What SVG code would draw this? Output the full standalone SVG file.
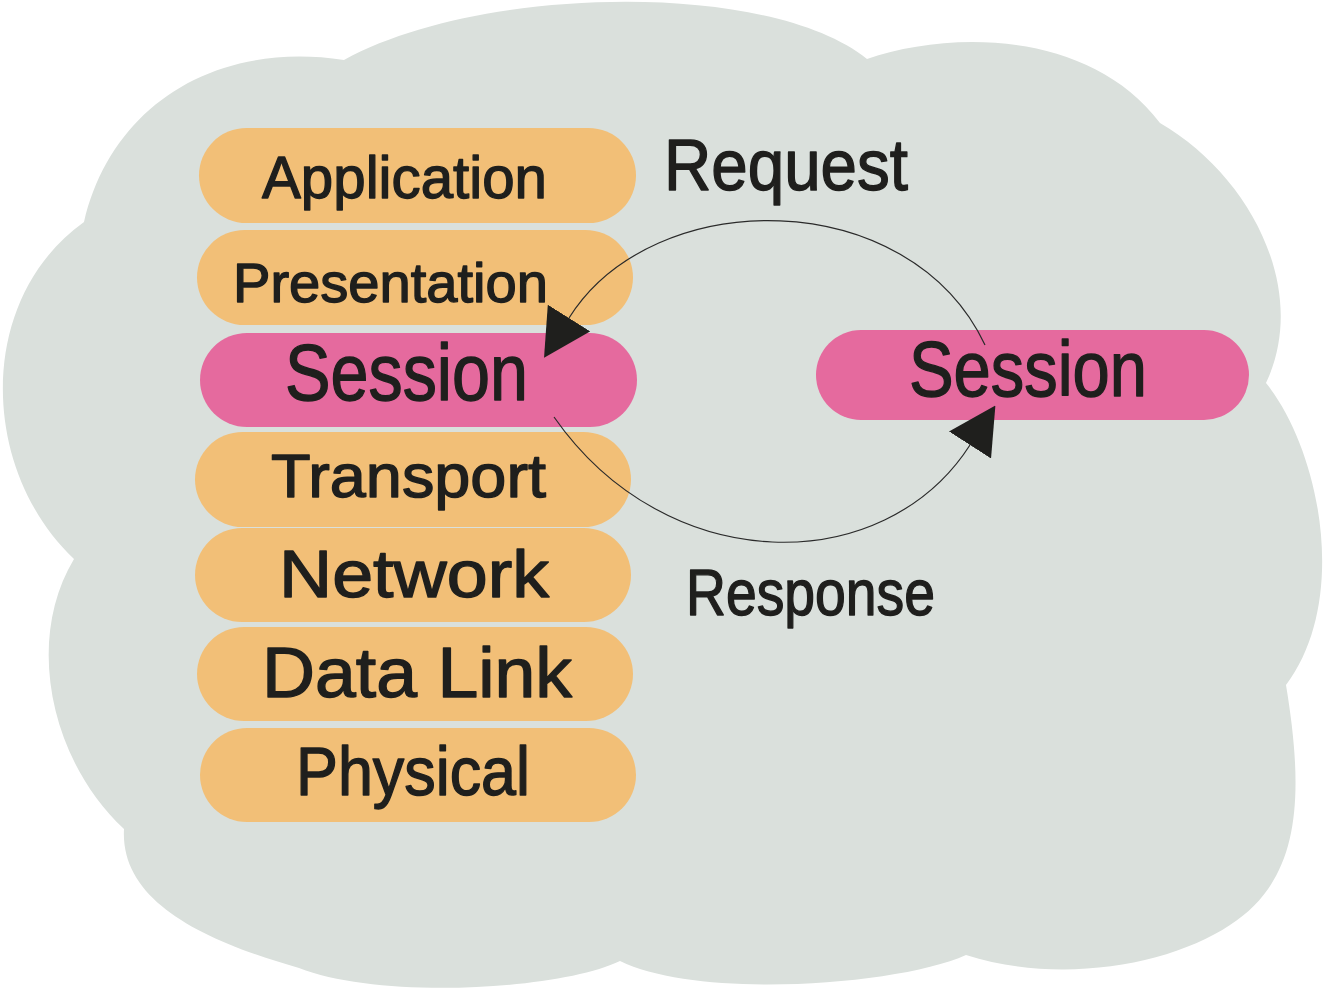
<svg xmlns="http://www.w3.org/2000/svg" width="1333" height="992" viewBox="0 0 1333 992">
  <style>
    .cloud { fill: #DAE0DC; }
    .layer { fill: #F2BF77; }
    .sess { fill: #E56A9E; }
    .lbl { font-family: "Liberation Sans", Arial, sans-serif; fill: #1F1F1D; stroke: #1F1F1D; stroke-width: 1.4; stroke-linejoin: round; }
    .conn { fill: none; stroke: #2A2A2A; stroke-width: 1.2; }
  </style>
  <defs>
    <marker id="arrow" viewBox="0 0 47 50" refX="0" refY="25" markerWidth="47" markerHeight="50" markerUnits="userSpaceOnUse" orient="auto">
      <path d="M0,0 L47,25 L0,50 Z" fill="#1F1F1D"/>
    </marker>
  </defs>

  <path id="cloud" class="cloud" d="M344,60 C480,-15 770,-20 867,59 C950,30 1090,30 1160,123 C1250,175 1310,290 1266,383 C1320,450 1350,600 1286,685 C1305,800 1300,880 1230,925 C1170,965 1060,985 966,955 C900,985 700,1000 620,961 C560,990 380,1000 299,968 C200,940 120,900 124,829 C50,760 25,640 74,559 C-20,470 -25,300 84,222 C110,110 210,40 344,60 Z"/>

  <g id="node-application">
    <rect class="layer" x="199" y="128" width="437" height="95" rx="47.5"/>
    <text class="lbl" x="262" y="198" font-size="60" textLength="285" lengthAdjust="spacingAndGlyphs">Application</text>
  </g>
  <g id="node-presentation">
    <rect class="layer" x="197" y="230" width="436" height="95" rx="47.5"/>
    <text class="lbl" x="233" y="302" font-size="56" textLength="315" lengthAdjust="spacingAndGlyphs">Presentation</text>
  </g>
  <g id="node-session-left">
    <rect class="sess" x="200" y="333" width="437" height="94" rx="47"/>
    <text class="lbl" x="285" y="400" font-size="80" textLength="243" lengthAdjust="spacingAndGlyphs">Session</text>
  </g>
  <g id="node-transport">
    <rect class="layer" x="195" y="432" width="436" height="95" rx="47.5"/>
    <text class="lbl" x="271" y="497" font-size="62" textLength="275" lengthAdjust="spacingAndGlyphs">Transport</text>
  </g>
  <g id="node-network">
    <rect class="layer" x="195" y="528" width="436" height="94" rx="47"/>
    <text class="lbl" x="279" y="597" font-size="66" textLength="270" lengthAdjust="spacingAndGlyphs">Network</text>
  </g>
  <g id="node-datalink">
    <rect class="layer" x="197" y="627" width="436" height="94" rx="47"/>
    <text class="lbl" x="262" y="697" font-size="70" textLength="310" lengthAdjust="spacingAndGlyphs">Data Link</text>
  </g>
  <g id="node-physical">
    <rect class="layer" x="200" y="728" width="436" height="94" rx="47"/>
    <text class="lbl" x="296" y="795" font-size="68" textLength="234" lengthAdjust="spacingAndGlyphs">Physical</text>
  </g>
  <g id="node-session-right">
    <rect class="sess" x="816" y="330" width="433" height="90" rx="45"/>
    <text class="lbl" x="909" y="396" font-size="78" textLength="238" lengthAdjust="spacingAndGlyphs">Session</text>
  </g>

  <g id="connectors">
    <path id="request" class="conn" d="M985,345 C909,184 653,184 569,318" marker-end="url(#arrow)"/>
    <path id="response" class="conn" d="M554,417 C667,579 884,579 970,445" marker-end="url(#arrow)"/>
  </g>

  <g id="labels">
    <text class="lbl" x="664" y="190" font-size="72" textLength="244" lengthAdjust="spacingAndGlyphs">Request</text>
    <text class="lbl" x="686" y="615" font-size="64" textLength="249" lengthAdjust="spacingAndGlyphs">Response</text>
  </g>
</svg>
